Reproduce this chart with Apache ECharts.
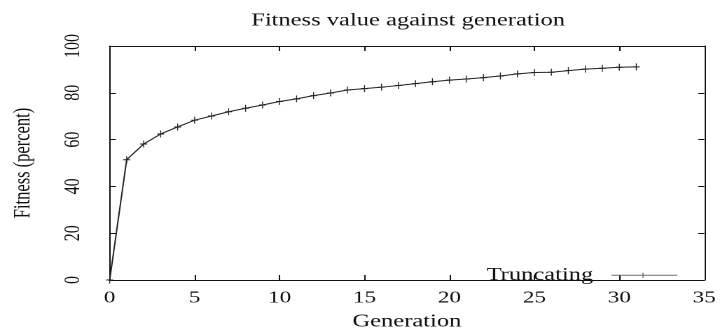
<!DOCTYPE html>
<html>
<head>
<meta charset="utf-8">
<script src="https://cdn.jsdelivr.net/npm/echarts@6/dist/echarts.min.js"></script>
<style>
  html, body { margin: 0; padding: 0; background: #fff; overflow: hidden; }
  /* The chart is laid out on a narrower canvas and widened to 720px,
     giving the broad, horizontally stretched lettering of the plot. */
  #chart {
    width: 514px;
    height: 336px;
    transform: scaleX(1.40078);
    transform-origin: 0 0;
  }
</style>
</head>
<body>
<div id="chart"></div>
<script>
// Generation number and best fitness (percent) at each generation
const generations = [0, 1, 2, 3, 4, 5, 6, 7, 8, 9, 10, 11, 12, 13, 14, 15,
                     16, 17, 18, 19, 20, 21, 22, 23, 24, 25, 26, 27, 28, 29, 30, 31];
const fitness = [0, 51.4, 58.1, 62.4, 65.4, 68.3, 70.1, 71.9, 73.4, 74.8, 76.3,
                 77.4, 78.8, 79.9, 81.2, 81.8, 82.4, 83.1, 83.9, 84.7, 85.4, 85.9,
                 86.5, 87.2, 88.1, 88.7, 88.8, 89.5, 90.1, 90.5, 90.9, 91.1];
const seriesName = 'Truncating';
const xTicks = { min: 0, max: 35, interval: 5 };
const yTicks = { min: 0, max: 100, interval: 20 };

const FONT = 'Liberation Serif';
const INK = '#111';

// gnuplot-style "+" point marker
const PLUS = 'path://M4.3,0 H5.7 V4.3 H10 V5.7 H5.7 V10 H4.3 V5.7 H0 V4.3 H4.3 Z';
// key sample: a short line with a point marker in its middle
const KEY_SAMPLE = 'path://M0,2 H47 V3 H0 Z M22.1,0 H22.9 V5 H22.1 Z';

const points = generations.map((g, i) => [g, fitness[i]]);

const frameLine = { show: true, onZero: false, lineStyle: { color: INK, width: 1 } };

const chart = echarts.init(document.getElementById('chart'), null, {
  renderer: 'canvas',
  devicePixelRatio: 2
});

chart.setOption({
  animation: false,
  backgroundColor: '#fff',
  textStyle: { fontFamily: FONT },
  title: {
    text: 'Fitness value against generation',
    left: 291.35,
    top: 12,
    padding: 0,
    textAlign: 'center',
    textStyle: { fontFamily: FONT, fontSize: 17.5, fontWeight: 'normal', color: INK }
  },
  grid: { left: 77.3, right: 8.6, top: 46, bottom: 47.7, show: false },
  legend: {
    right: 30.5,
    top: 266.25,
    padding: 0,
    align: 'right',
    itemWidth: 47,
    itemHeight: 5,
    selectedMode: false,
    textStyle: { fontFamily: FONT, fontSize: 17.5, color: INK, padding: [0, 8, 4, 0] },
    data: [{ name: seriesName, icon: KEY_SAMPLE, itemStyle: { color: '#6f6f6f' } }]
  },
  xAxis: [
    {
      type: 'value',
      position: 'bottom',
      min: xTicks.min, max: xTicks.max, interval: xTicks.interval,
      name: 'Generation',
      nameLocation: 'middle',
      nameGap: 33,
      nameTextStyle: { fontFamily: FONT, fontSize: 17.5, color: INK },
      axisLine: frameLine,
      axisTick: { show: true, inside: true, length: 5, lineStyle: { color: INK } },
      axisLabel: { fontFamily: FONT, fontSize: 16.5, color: INK, margin: 9.8 },
      splitLine: { show: false }
    },
    {
      type: 'value',
      position: 'top',
      min: xTicks.min, max: xTicks.max, interval: xTicks.interval,
      axisLine: frameLine,
      axisTick: { show: true, inside: true, length: 5, lineStyle: { color: INK } },
      axisLabel: { show: false },
      splitLine: { show: false }
    }
  ],
  yAxis: [
    {
      type: 'value',
      position: 'left',
      min: yTicks.min, max: yTicks.max, interval: yTicks.interval,
      name: 'Fitness (percent)',
      nameLocation: 'middle',
      nameGap: 53.3,
      nameTextStyle: { fontFamily: FONT, fontSize: 16.5, color: INK },
      axisLine: frameLine,
      axisTick: { show: true, inside: true, length: 4.3, lineStyle: { color: INK } },
      axisLabel: { fontFamily: FONT, fontSize: 16, color: INK, margin: 18, rotate: 90 },
      splitLine: { show: false }
    },
    {
      type: 'value',
      position: 'right',
      min: yTicks.min, max: yTicks.max, interval: yTicks.interval,
      axisLine: frameLine,
      axisTick: { show: true, inside: true, length: 4.3, lineStyle: { color: INK } },
      axisLabel: { show: false },
      splitLine: { show: false }
    }
  ],
  series: [
    {
      name: seriesName,
      type: 'line',
      xAxisIndex: 0,
      yAxisIndex: 0,
      data: points,
      symbol: PLUS,
      symbolSize: [5, 7],
      showAllSymbol: true,
      lineStyle: { color: '#222', width: 1 },
      itemStyle: { color: '#222' },
      emphasis: { disabled: true }
    }
  ]
});
</script>
</body>
</html>
